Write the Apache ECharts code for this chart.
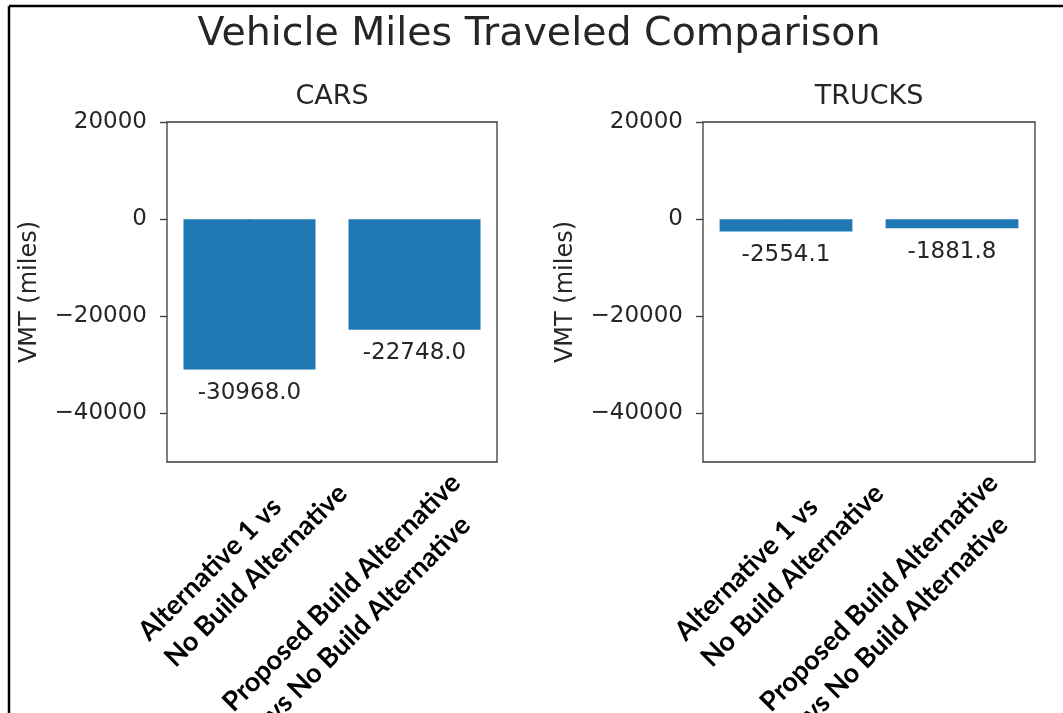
<!DOCTYPE html>
<html>
<head>
<meta charset="utf-8">
<script src="https://cdn.jsdelivr.net/npm/echarts@6/dist/echarts.min.js"></script>
<style>
  html, body { margin: 0; padding: 0; background: #fff; }
  #chart { width: 1063px; height: 713px; }
</style>
</head>
<body>
<div id="chart"></div>
<script>
// Data
const categories = [
  'Alternative 1 vs\nNo Build Alternative',
  'Proposed Build Alternative\nvs No Build Alternative'
];
const carsVmt = [-30968.0, -22748.0];
const trucksVmt = [-2554.1, -1881.8];
const yTicks = [-40000, -20000, 0, 20000];
const yMin = -50000;
const yMax = 20000;
const panelTitles = ['CARS', 'TRUCKS'];
const chartTitle = 'Vehicle Miles Traveled Comparison';
const yName = 'VMT (miles)';

const TEXT = '#262626';
const SPINE = '#3a3a3a';
const MPL = 'DejaVu Sans';

const chart = echarts.init(document.getElementById('chart'), null, { renderer: 'canvas' });

const grids = [
  { left: 167, top: 122, width: 330, height: 340 },
  { left: 703, top: 122, width: 332, height: 340 }
];

// Bold, slanted category labels; each category gets its own axis layer so
// the two text blocks can be placed independently under the panel.
const catFont = { fontFamily: 'Lato', fontWeight: 'bold', fontSize: 27, lineHeight: 37, color: '#000' };
function catLabel(styleName) {
  return function (value) {
    return value.split('\n').map(s => '{' + styleName + '|' + s + '}').join('\n');
  };
}
const labelPlacement = [
  { margin: -66, padding: [226, 0, 0, 0], align: 'left' },
  { margin: -25, padding: [154, 0, 0, 0], align: 'center' }
];

const xAxes = [];
const yAxes = [];
grids.forEach((g, gi) => {
  labelPlacement.forEach((p, ci) => {
    const styleName = 's' + ci;
    xAxes.push({
      type: 'category',
      gridIndex: gi,
      position: 'bottom',
      data: categories,
      axisLine: { show: false },
      axisTick: { show: ci === 0, alignWithLabel: true, length: 7, lineStyle: { color: SPINE, width: 1.3 } },
      splitLine: { show: false },
      axisLabel: {
        interval: (i) => i === ci,
        rotate: 45,
        margin: p.margin,
        padding: p.padding,
        formatter: catLabel(styleName),
        rich: { [styleName]: Object.assign({ align: p.align }, catFont) }
      }
    });
  });
  yAxes.push({
    type: 'value',
    gridIndex: gi,
    min: yMin,
    max: yMax,
    name: yName,
    nameLocation: 'middle',
    nameRotate: 90,
    nameGap: 125,
    nameTextStyle: { fontFamily: MPL, fontSize: 24, color: TEXT },
    axisLine: { show: false },
    splitLine: { show: false },
    axisTick: { show: true, length: 7, customValues: yTicks, lineStyle: { color: SPINE, width: 1.3 } },
    axisLabel: {
      customValues: yTicks,
      margin: 20,
      fontFamily: MPL,
      fontSize: 23,
      color: TEXT,
      formatter: (v) => String(v).replace('-', '\u2212')
    }
  });
});

const barLabel = {
  show: true,
  position: 'bottom',
  distance: 12,
  fontFamily: MPL,
  fontSize: 23,
  color: TEXT,
  formatter: (p) => p.value.toFixed(1)
};

const option = {
  backgroundColor: '#fff',
  animation: false,
  title: [
    { text: chartTitle, left: 539, top: 15, padding: 0, textAlign: 'center',
      textStyle: { fontFamily: MPL, fontSize: 39.5, fontWeight: 'normal', color: TEXT } },
    { text: panelTitles[0], left: 332, top: 83, padding: 0, textAlign: 'center',
      textStyle: { fontFamily: MPL, fontSize: 27, fontWeight: 'normal', color: TEXT } },
    { text: panelTitles[1], left: 869, top: 83, padding: 0, textAlign: 'center',
      textStyle: { fontFamily: MPL, fontSize: 27, fontWeight: 'normal', color: TEXT } }
  ],
  grid: grids.map(g => Object.assign({
    show: true,
    borderColor: SPINE,
    borderWidth: 1.3,
    backgroundColor: 'transparent',
    outerBoundsMode: 'none',
    containLabel: false
  }, g)),
  xAxis: xAxes,
  yAxis: yAxes,
  series: [
    { type: 'bar', name: panelTitles[0], xAxisIndex: 0, yAxisIndex: 0, data: carsVmt,
      barWidth: '80%', itemStyle: { color: '#1f77b4' }, label: barLabel },
    { type: 'bar', name: panelTitles[1], xAxisIndex: 2, yAxisIndex: 1, data: trucksVmt,
      barWidth: '80%', itemStyle: { color: '#1f77b4' }, label: barLabel }
  ],
  // page frame
  graphic: [
    { type: 'line', shape: { x1: 9, y1: 6, x2: 1063, y2: 6 }, style: { stroke: '#000', lineWidth: 2.5 } },
    { type: 'line', shape: { x1: 9, y1: 6, x2: 9, y2: 713 }, style: { stroke: '#000', lineWidth: 2.5 } }
  ]
};

chart.setOption(option);
</script>
</body>
</html>
